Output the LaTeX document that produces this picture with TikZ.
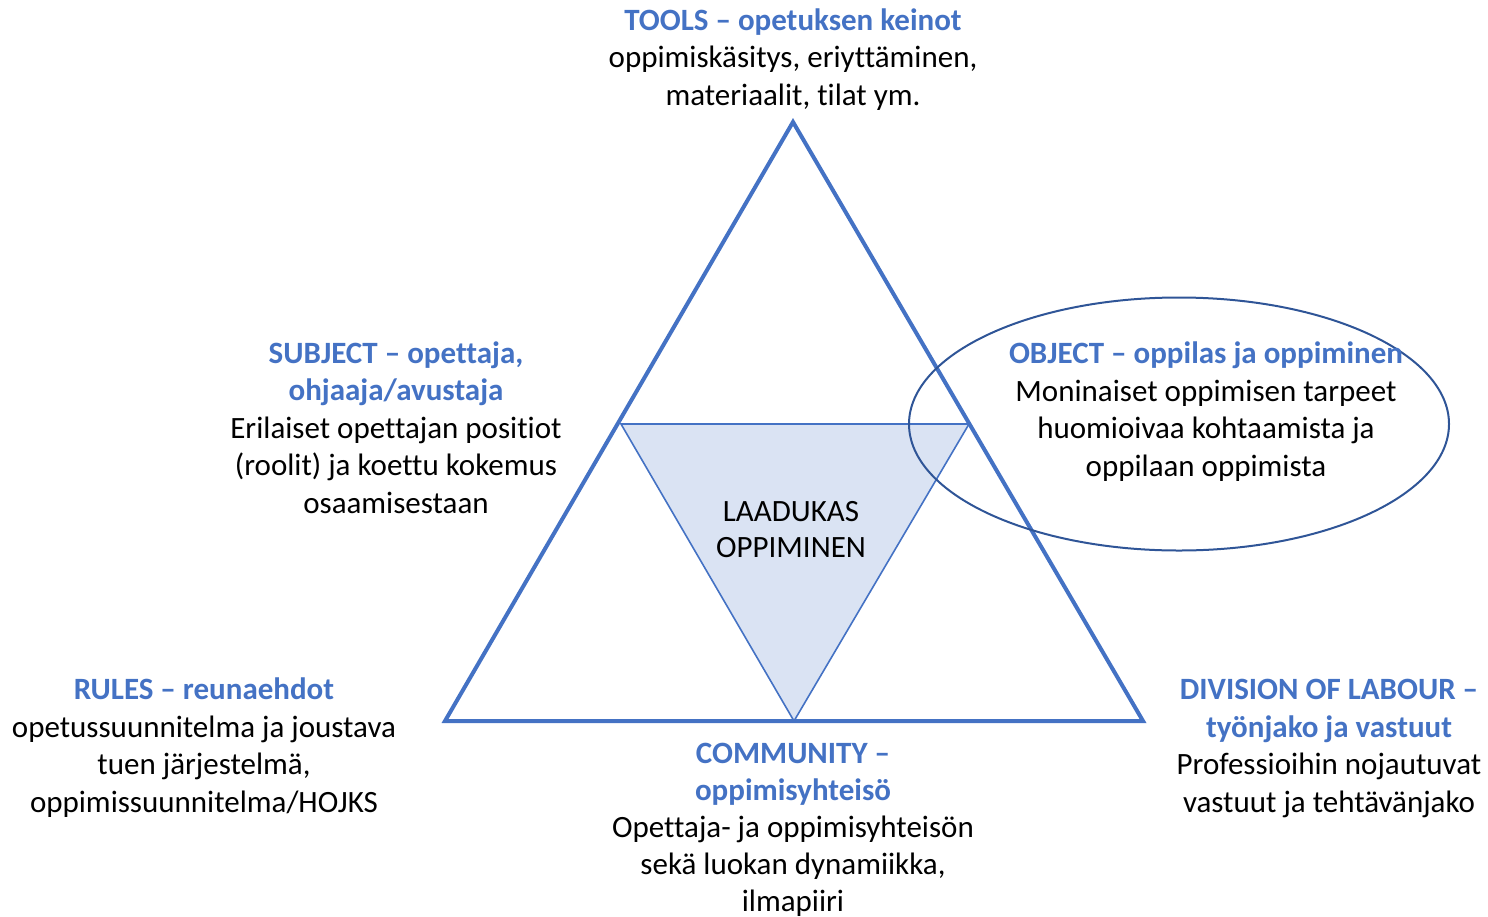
\documentclass[tikz,border=0pt]{standalone}
\usepackage{fontspec}
\setmainfont[Ligatures={NoCommon}]{Carlito}
\definecolor{accblue}{HTML}{4472C4}
\definecolor{lightfill}{HTML}{DAE3F3}
\definecolor{darkblue}{HTML}{2F5597}
\begin{document}
\begin{tikzpicture}[x=1pt,y=-1pt,
  txt/.style={align=center,inner sep=0pt,anchor=base,font=\fontsize{31}{37.5}\selectfont}]
\useasboundingbox (0,0) rectangle (1488,916);
% inner triangle
\coordinate (il) at (621,424);
\coordinate (ir) at (969,424);
\coordinate (ib) at (794,721);
\filldraw[fill=lightfill,draw=accblue,line width=1.6pt,line join=miter] (il) -- (ir) -- (ib) -- cycle;
% outer triangle
\coordinate (top) at (793,122);
\coordinate (bl) at (445,721);
\coordinate (br) at (1143,721);
\draw[accblue,line width=4pt,line join=miter] (top) -- (br) -- (bl) -- cycle;
% ellipse
\draw[darkblue,line width=2pt] (1179,424) ellipse [x radius=270,y radius=126.5];
% texts (anchor = baseline of the last line)
\node[txt] (tools) at (793,105) {{\bfseries\color{accblue}TOOLS – opetuksen keinot}\\oppimiskäsitys, eriyttäminen,\\materiaalit, tilat ym.};
\node[txt] (subject) at (396,513) {{\bfseries\color{accblue}SUBJECT – opettaja,}\\{\bfseries\color{accblue}ohjaaja/avustaja}\\Erilaiset opettajan positiot\\(roolit) ja koettu kokemus\\osaamisestaan};
\node[txt] (object) at (1206,476) {{\bfseries\color{accblue}OBJECT – oppilas ja oppiminen}\\Moninaiset oppimisen tarpeet\\huomioivaa kohtaamista ja\\oppilaan oppimista};
\node[txt,font=\fontsize{31}{36}\selectfont] (center) at (791,557) {LAADUKAS\\OPPIMINEN};
\node[txt] (rules) at (204,812) {{\bfseries\color{accblue}RULES – reunaehdot}\\opetussuunnitelma ja joustava\\tuen järjestelmä,\\oppimissuunnitelma/HOJKS};
\node[txt] (division) at (1329,812) {{\bfseries\color{accblue}DIVISION OF LABOUR –}\\{\bfseries\color{accblue}työnjako ja vastuut}\\Professioihin nojautuvat\\vastuut ja tehtävänjako};
\node[txt,font=\fontsize{31}{37}\selectfont] (community) at (793,911) {{\bfseries\color{accblue}COMMUNITY –}\\{\bfseries\color{accblue}oppimisyhteisö}\\Opettaja- ja oppimisyhteisön\\sekä luokan dynamiikka,\\ilmapiiri};
\end{tikzpicture}
\end{document}
